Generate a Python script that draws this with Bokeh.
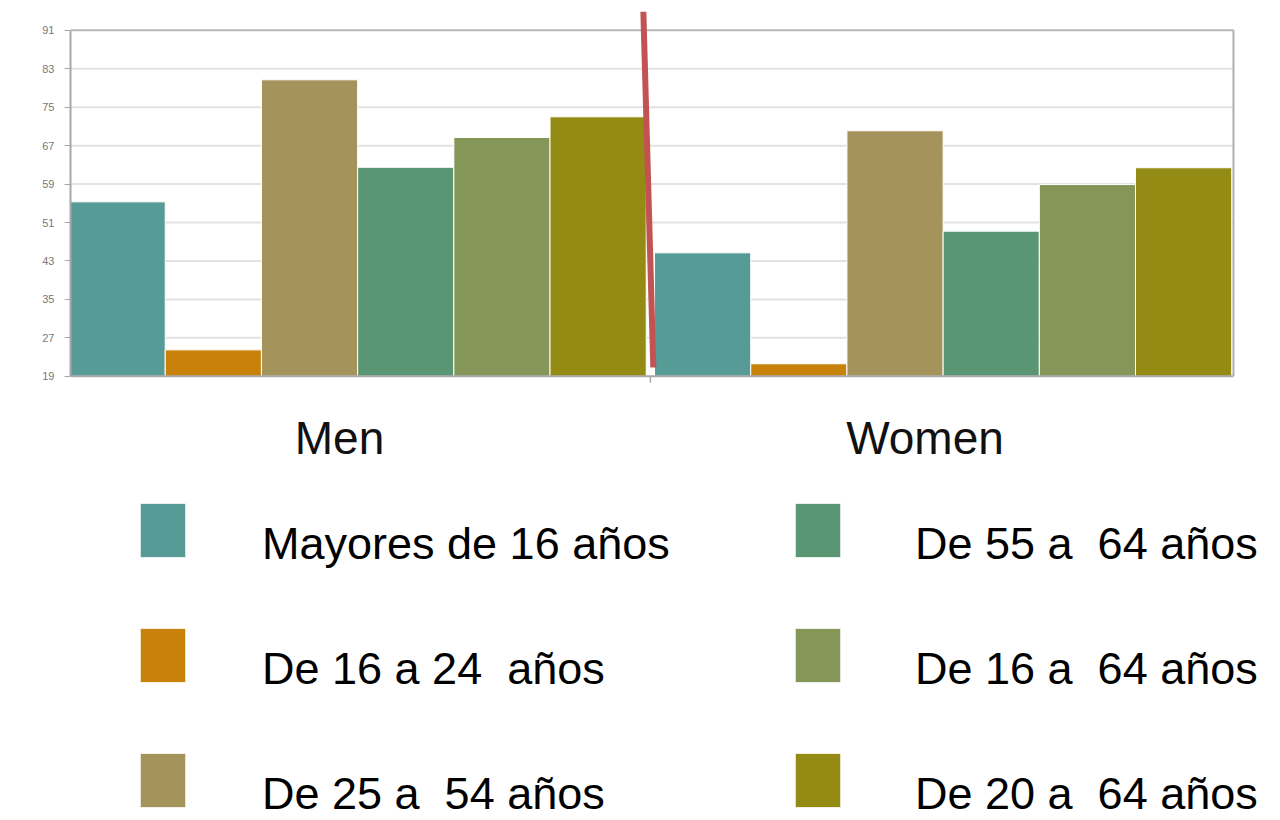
from bokeh.plotting import figure
from bokeh.models import Range1d, FixedTicker, Legend, LegendItem, ColumnDataSource
from bokeh.core.properties import value
from bokeh.embed import file_html
from bokeh.resources import INLINE

# ---- data ----
groups = ["Men", "Women"]
series = ["Mayores de 16 años", "De 16 a 24  años", "De 25 a  54 años",
          "De 55 a  64 años", "De 16 a  64 años", "De 20 a  64 años"]
men = [55.3, 24.5, 80.7, 62.5, 68.7, 73.0]
women = [44.7, 21.6, 70.1, 49.2, 58.9, 62.4]
colors = ["#579b96", "#c8820a", "#a5935c", "#5a9673", "#849658", "#948b14"]
y_ticks = [19, 27, 35, 43, 51, 59, 67, 75, 83, 91]

# ---- layout/style constants ----
bar_w = 0.1643
group_shift = 0.031
y_base = y_ticks[0]
y_top = y_ticks[-1]
x_lo, x_hi = -0.4594, 1.5269   # plot-area edges (data units)

p = figure(width=1280, height=820,
           x_range=Range1d(x_lo, 1.6072), y_range=Range1d(-73.45, 94.92),
           output_backend="svg", toolbar_location=None, x_axis_location=None,
           min_border_left=70, min_border_right=0, min_border_top=11, min_border_bottom=0)
p.outline_line_color = None
p.background_fill_color = "white"
p.xgrid.visible = False
p.ygrid.visible = False

# grid lines limited to the plot area
inner = y_ticks[1:-1]
p.segment(x0=[x_lo] * len(inner), y0=inner, x1=[x_hi] * len(inner), y1=inner,
          line_color="#e2e2e2", line_width=2)
p.segment(x0=[x_lo], y0=[y_top], x1=[x_hi], y1=[y_top], line_color="#b8b8b8", line_width=2)

# bars
renderers = []
for j, name in enumerate(series):
    xs = [gi + group_shift + (j - 2.5) * bar_w for gi in range(len(groups))]
    src = ColumnDataSource(dict(x=xs, top=[men[j], women[j]]))
    r = p.vbar(x="x", top="top", bottom=y_base, width=bar_w, source=src,
               fill_color=colors[j], line_color="white", line_width=1)
    renderers.append(r)

# baseline, right border, group separator tick
p.segment(x0=[x_lo], y0=[y_base], x1=[x_hi], y1=[y_base], line_color="#a8a8a8", line_width=2)
p.segment(x0=[x_hi], y0=[y_base], x1=[x_hi], y1=[y_top], line_color="#b0b0b0", line_width=2)
p.segment(x0=[0.5 + group_shift], y0=[y_base], x1=[0.5 + group_shift], y1=[y_base - 1.3],
          line_color="#a8a8a8", line_width=1.5)

# group labels (category axis labels)
p.text(x=list(range(len(groups))), y=[y_base] * len(groups), text=groups,
       y_offset=36, text_align="center", text_baseline="top",
       text_font=value("Liberation Sans"), text_font_size="46px", text_color="#111111")

# hand-drawn red divider
p.segment(x0=[0.519], y0=[94.92], x1=[0.536], y1=[20.83], line_color="#c25353", line_width=6)

# y axis
yax = p.yaxis[0]
yax.ticker = FixedTicker(ticks=y_ticks)
yax.bounds = (y_base, y_top)
yax.axis_line_color = "#a8a8a8"
yax.axis_line_width = 2
yax.major_tick_line_color = "#a8a8a8"
yax.major_tick_out = 6
yax.major_tick_in = 0
yax.minor_tick_out = 0
yax.minor_tick_in = 0
yax.major_label_text_font = "Liberation Sans"
yax.major_label_text_font_size = "11px"
yax.major_label_text_color = "#777777"
yax.major_label_standoff = 10

# legends: swatches and their texts (texts sit a little lower than the swatches)
base = dict(orientation="vertical", padding=0, margin=0,
            border_line_color=None, background_fill_alpha=0, label_text_color="black")
cols = [range(0, 3), range(3, 6)]
for c, (sx, tx) in enumerate([(64, 191), (719, 844)]):
    swatch_items = [LegendItem(label=" ", renderers=[renderers[j]]) for j in cols[c]]
    text_items = [LegendItem(label=series[j], renderers=[renderers[j]]) for j in cols[c]]
    p.add_layout(Legend(items=swatch_items, location=(sx, 6),
                        glyph_width=57, glyph_height=68, label_height=68, spacing=57,
                        label_standoff=0, label_width=20, label_text_font_size="1px", **base))
    p.add_layout(Legend(items=text_items, location=(tx, -6),
                        glyph_width=1, glyph_height=1, label_height=64, spacing=61,
                        label_standoff=0,
                        label_text_font="Liberation Sans", label_text_font_size="45px",
                        label_text_baseline="hanging", **base))

open("out.html", "w").write(file_html(p, INLINE))
